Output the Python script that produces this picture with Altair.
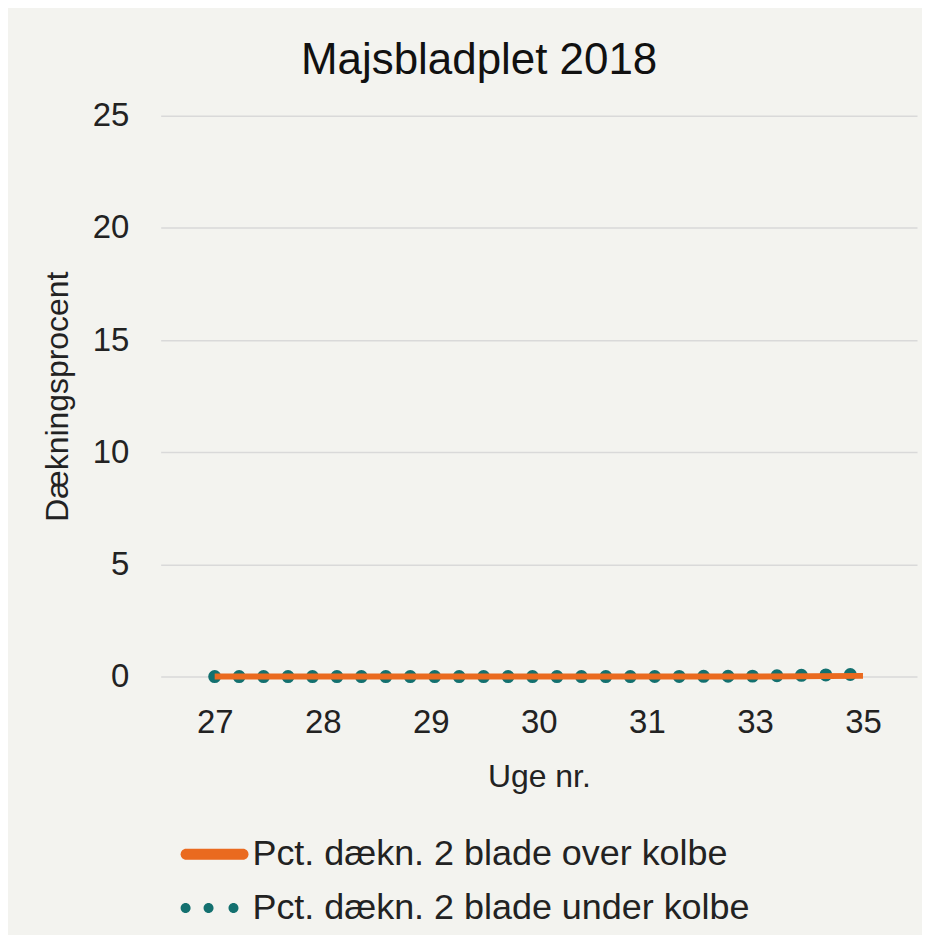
import altair as alt
import pandas as pd

weeks = ["27", "28", "29", "30", "31", "33", "35"]
over_kolbe = [0.0, 0.0, 0.0, 0.0, 0.0, 0.0, 0.03]
under_kolbe = [0.0, 0.0, 0.0, 0.0, 0.0, 0.02, 0.1]
series = ["Pct. dækn. 2 blade over kolbe", "Pct. dækn. 2 blade under kolbe"]
colors = ["#EA6A1F", "#13706F"]
y_ticks = [0, 5, 10, 15, 20, 25]

rows = []
for w, a, b in zip(weeks, over_kolbe, under_kolbe):
    rows.append({"uge": w, "pct": a, "serie": series[0]})
    rows.append({"uge": w, "pct": b, "serie": series[1]})
df = pd.DataFrame(rows)

FONT = "Liberation Sans"

# legend symbol shapes (unit coordinates)
orange_sym = ("M-0.78,-0.22 L1.5,-0.22 A0.22,0.22 0 0 1 1.5,0.22 "
              "L-0.78,0.22 A0.22,0.22 0 0 1 -0.78,-0.22 Z")


def circ(c, r=0.2):
    return (f"M{c - r:.2f},0 A{r},{r} 0 1 0 {c + r:.2f},0 "
            f"A{r},{r} 0 1 0 {c - r:.2f},0 Z")


teal_sym = " ".join([circ(-0.8), circ(0.12), circ(1.12)])

x_enc = alt.X("uge:O", sort=weeks, title="Uge nr.",
              scale=alt.Scale(type="point", padding=0.5),
              axis=alt.Axis(labelAngle=0, labelFontSize=33, titleFontSize=32,
                            labelPadding=30, titlePadding=22, ticks=False,
                            domain=False, grid=False, labelColor="#222222",
                            titleColor="#222222", titleFontWeight="normal"))
y_enc = alt.Y("pct:Q", title="Dækningsprocent",
              scale=alt.Scale(domain=[0, 25], nice=False),
              axis=alt.Axis(values=y_ticks, labelFontSize=33, titleFontSize=32,
                            labelPadding=32, titlePadding=18, ticks=False,
                            domain=False, grid=True, gridColor="#D9D9D9",
                            gridWidth=1.5, labelColor="#222222",
                            titleColor="#222222", titleFontWeight="normal"))

base = alt.Chart(df)

teal_line = base.transform_filter(alt.datum.serie == series[1]).mark_line(
    color=colors[1], strokeWidth=13, strokeDash=[0, 24.5], strokeCap="round"
).encode(x=x_enc, y=y_enc)

orange_line = base.transform_filter(alt.datum.serie == series[0]).mark_line(
    color=colors[0], strokeWidth=6
).encode(x=x_enc, y=y_enc)

legend_layer = base.transform_filter("false").mark_point(
    filled=True, opacity=1
).encode(
    x=x_enc, y=y_enc,
    color=alt.Color("serie:N", scale=alt.Scale(domain=series, range=colors),
                    legend=alt.Legend(title=None, orient="none", legendX=20,
                                      legendY=715, direction="vertical",
                                      labelFontSize=36, labelFont=FONT,
                                      labelColor="#222222", symbolSize=2500,
                                      symbolStrokeWidth=0, labelOffset=22,
                                      rowPadding=11, symbolOpacity=1,
                                      labelLimit=0)),
    shape=alt.Shape("serie:N", scale=alt.Scale(domain=series,
                                               range=[orange_sym, teal_sym])),
)

chart = alt.layer(teal_line, orange_line, legend_layer).properties(
    width=758, height=562, background="#F3F3EF",
    title=alt.Title("Majsbladplet 2018", fontSize=44, font=FONT,
                    fontWeight="normal", color="#111111", anchor="middle",
                    frame="bounds", offset=17),
    padding={"left": 33, "top": 30, "right": 5, "bottom": 8},
).configure(font=FONT).configure_view(stroke=None)

chart.save("out.html", embed_options={"renderer": "svg", "actions": False})
